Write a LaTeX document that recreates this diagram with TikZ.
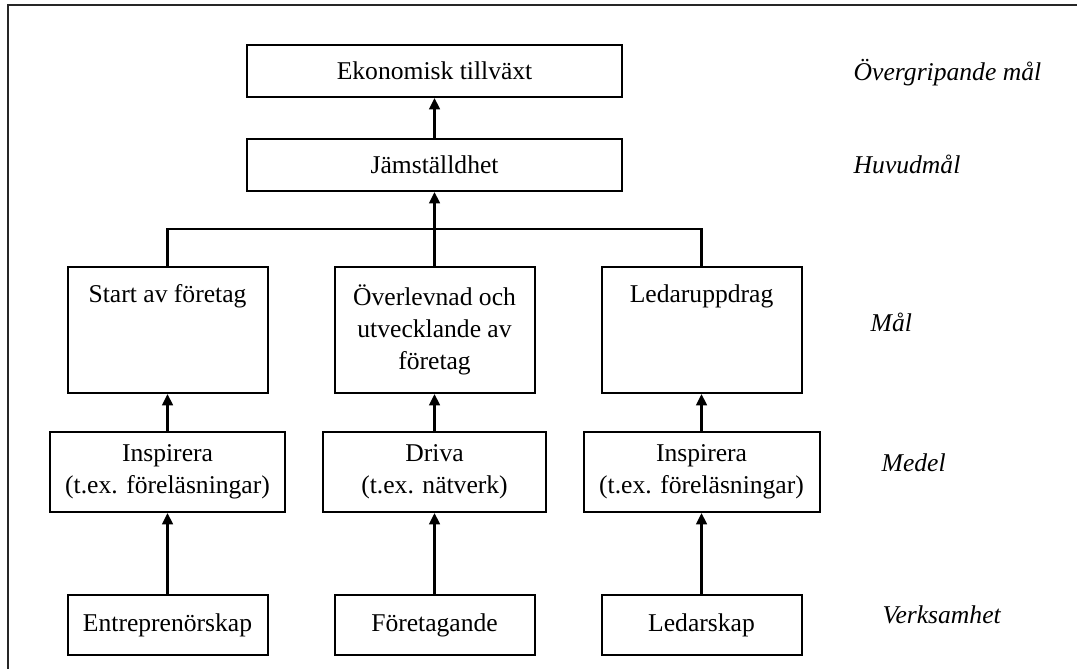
\documentclass[tikz,border=0pt]{standalone}
\usepackage{fontspec}
\setmainfont{Liberation Serif}
\usepackage{tikz}
\usetikzlibrary{arrows.meta,positioning,calc}

\begin{document}
\begin{tikzpicture}[
  font=\fontsize{19.2pt}{24pt}\selectfont,
  box/.style={draw, line width=1.5pt, align=center, inner sep=0pt},
  topbox/.style={box, minimum width=281.25pt, minimum height=39pt},
  goalbox/.style={box, minimum width=150pt, minimum height=94.5pt},
  meansbox/.style={box, minimum height=60pt},
  actbox/.style={box, minimum width=150pt, minimum height=45pt},
  lvl/.style={anchor=base west, font=\fontsize{19.2pt}{24pt}\selectfont\itshape},
  arrow/.style={-{Triangle[length=8.5pt, width=8pt]}, line width=1.8pt},
  link/.style={line width=1.8pt}]
  \useasboundingbox (0,0) rectangle (807.75pt,-501.75pt);
  \draw[line width=1.5pt, black!85] (807.75pt,-3.75pt) -- (6pt,-3.75pt) -- (6pt,-501.75pt);
  \node[topbox] (eko) at (325.9pt,-53.25pt) {Ekonomisk tillväxt};
  \node[topbox, below=30pt of eko] (jam) {Jämställdhet};
  \node[goalbox, below=55.5pt of jam] (m2) {Överlevnad och\\ utvecklande av\\ företag};
  \node[goalbox, left=48.75pt of m2] (m1) {Start av företag\\ \strut\\ \strut};
  \node[goalbox, right=48.75pt of m2] (m3) {Ledaruppdrag\\ \strut\\ \strut};
  \node[meansbox, minimum width=176.25pt, below=27.75pt of m1] (d1) {Inspirera\\ (t.ex. föreläsningar)};
  \node[meansbox, minimum width=167.25pt, below=27.75pt of m2] (d2) {Driva\\ (t.ex. nätverk)};
  \node[meansbox, minimum width=177pt, below=27.75pt of m3] (d3) {Inspirera\\ (t.ex. föreläsningar)};
  \node[actbox, below=60.75pt of d1] (v1) {Entreprenörskap};
  \node[actbox, below=60.75pt of d2] (v2) {Företagande};
  \node[actbox, below=60.75pt of d3] (v3) {Ledarskap};
  % level names
  \node[lvl] (l1) at (636.75pt,-60pt) {Övergripande mål};
  \node[lvl] (l2) at (636.75pt,-129.75pt) {Huvudmål};
  \node[lvl] (l3) at (649.5pt,-248.25pt) {Mål};
  \node[lvl] (l4) at (657.75pt,-353.25pt) {Medel};
  \node[lvl] (l5) at (658.5pt,-467.25pt) {Verksamhet};
  \draw[arrow] (jam) -- (eko);
  \coordinate (br) at ($(m2.north)+(0,27.75pt)$);
  \draw[link] (m1.north) |- (br) -| (m3.north);
  \draw[arrow] (m2.north) -- (jam.south);
  \draw[arrow] (d1) -- (m1);
  \draw[arrow] (d2) -- (m2);
  \draw[arrow] (d3) -- (m3);
  \draw[arrow] (v1) -- (d1);
  \draw[arrow] (v2) -- (d2);
  \draw[arrow] (v3) -- (d3);
\end{tikzpicture}
\end{document}
